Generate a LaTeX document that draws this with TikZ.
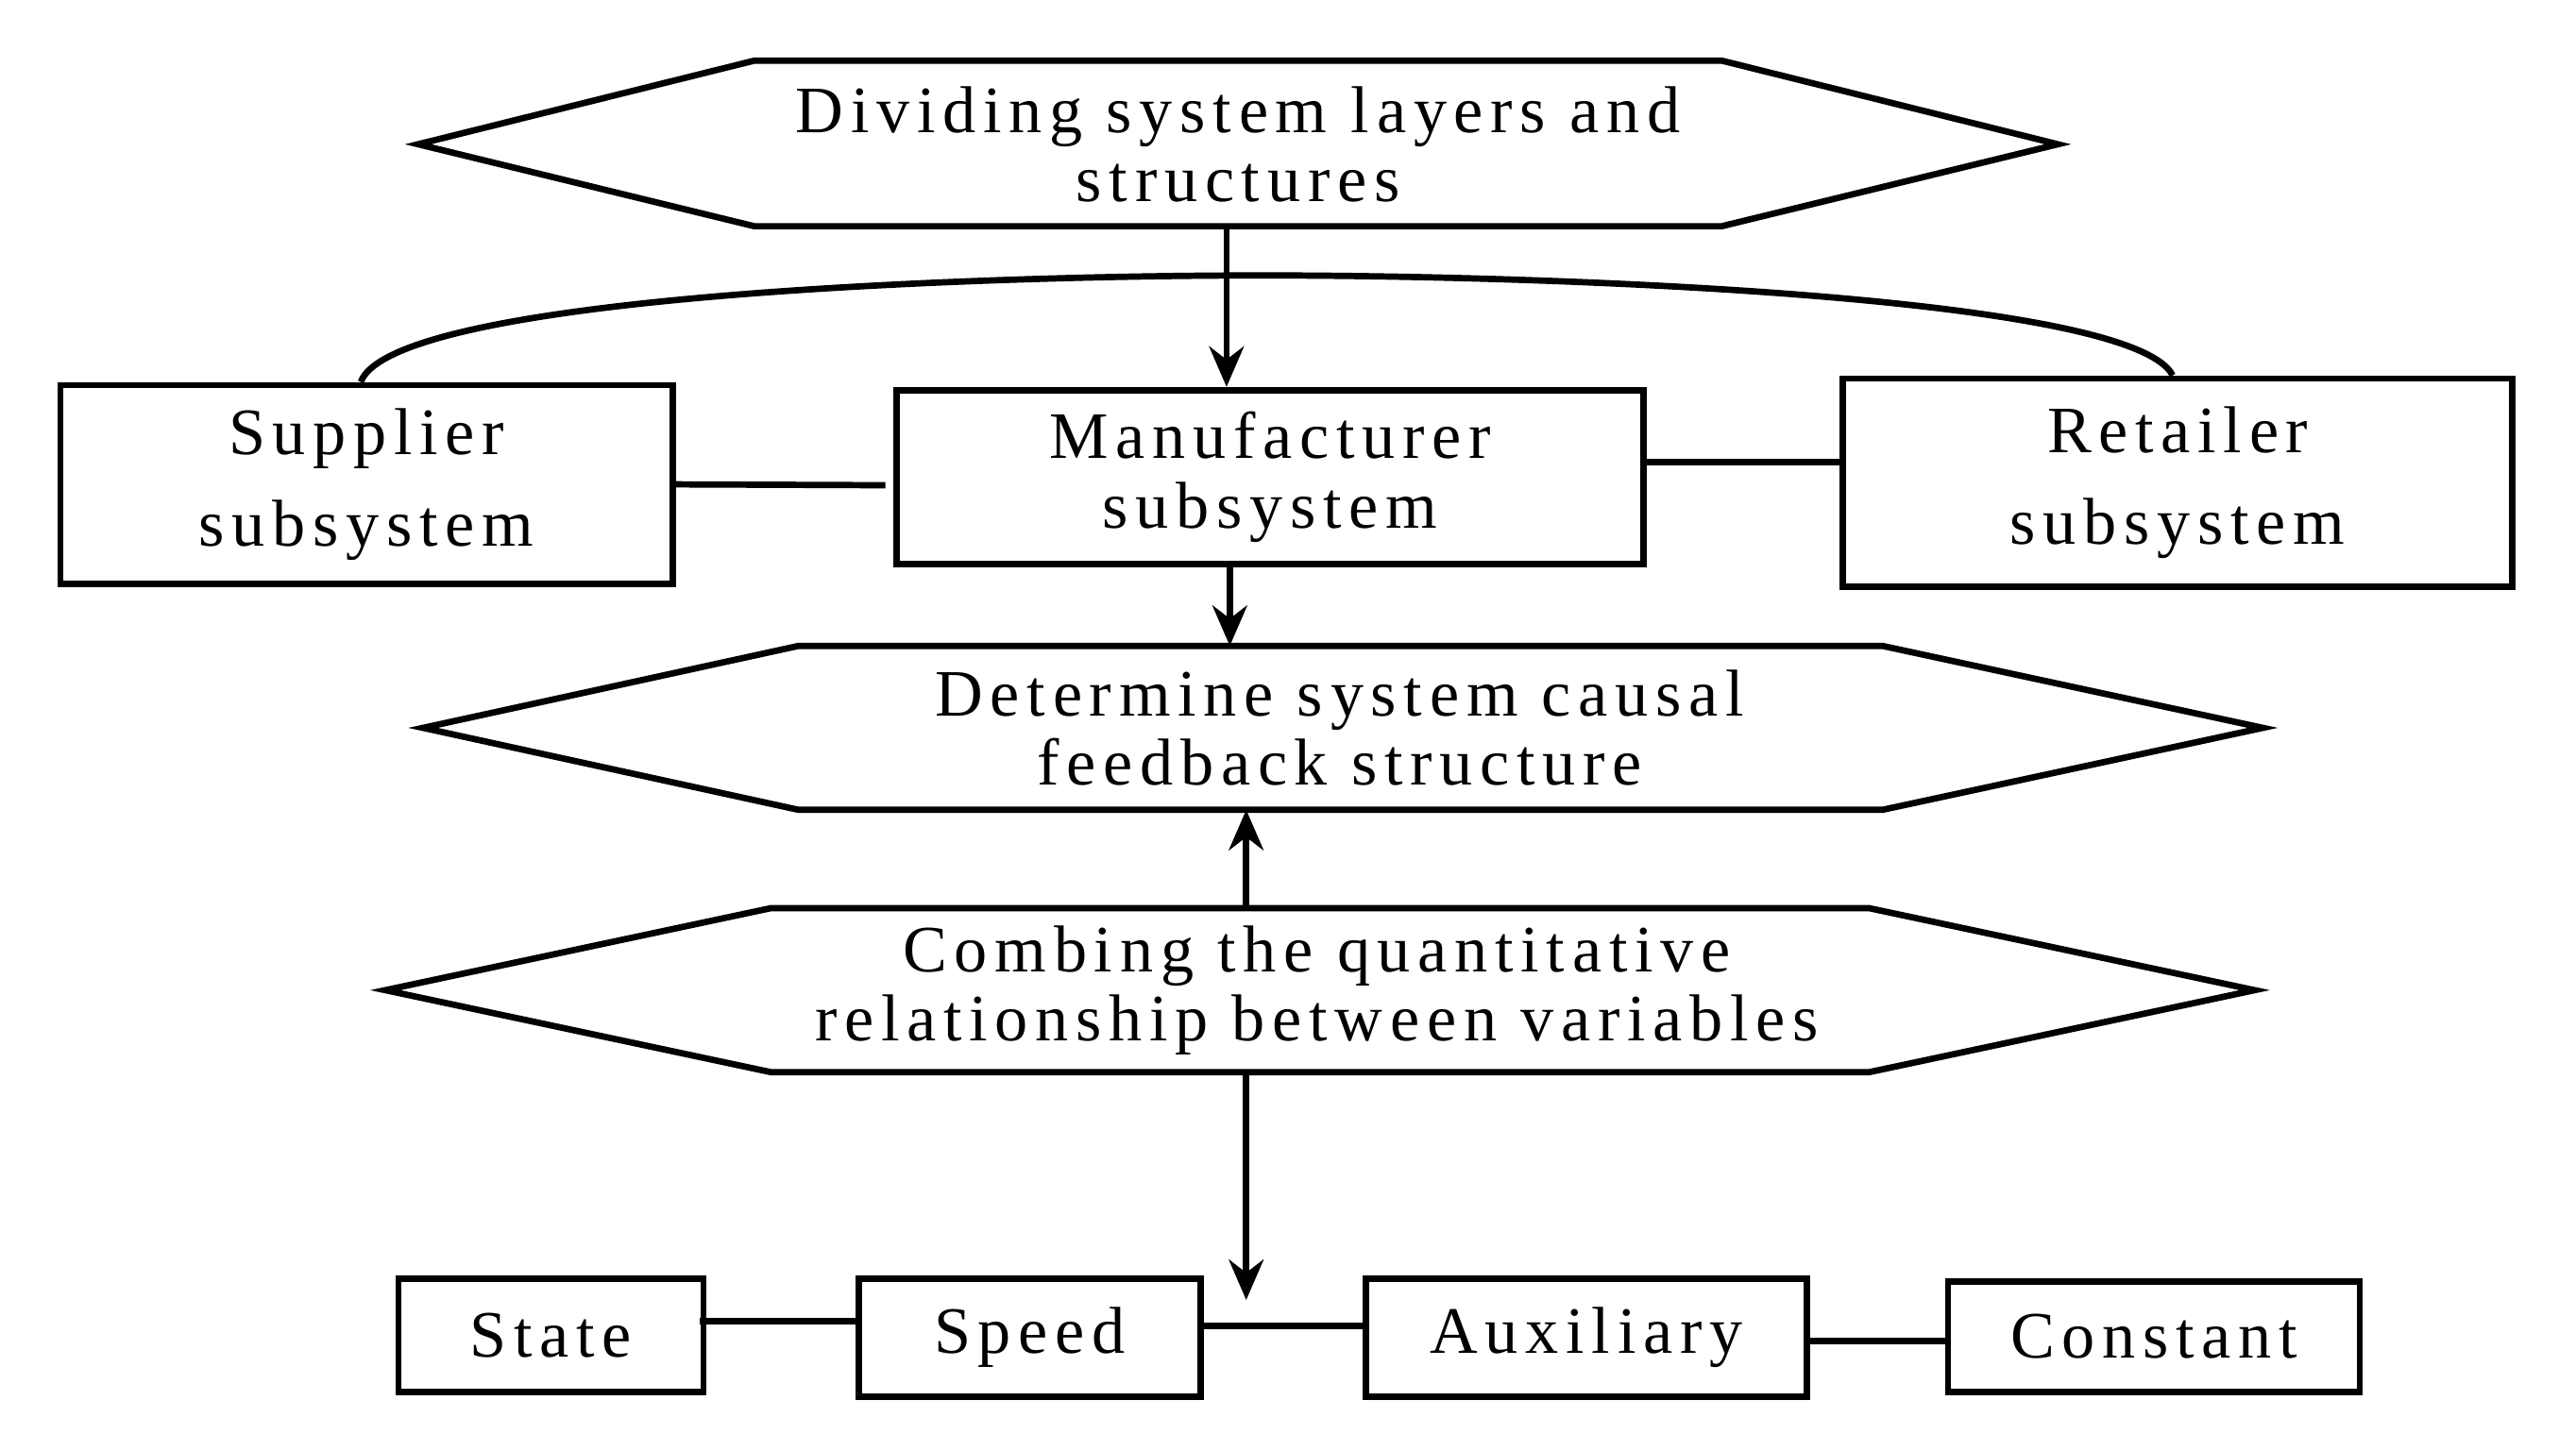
\documentclass[tikz,border=0pt]{standalone}
\usepackage{fontspec}
\setmainfont{Liberation Serif}[LetterSpace=11]
\usetikzlibrary{arrows.meta}
\begin{document}
\begin{tikzpicture}[x=0.01cm,y=-0.01cm,line width=1.1pt,
  txt/.style={align=center,font=\fontsize{11.5}{12}\selectfont,inner sep=0pt},
  box/.style={draw,txt,anchor=north west},
  arr/.style={-{Stealth[length=7pt,width=6pt]}}]
\useasboundingbox (0,0) rectangle (1571,885);
% hexagons
\draw (255,88) -- (460,37) -- (1050,37) -- (1255,88) -- (1050,138) -- (460,138) -- cycle;
\node[txt] (h1) at (755,88) {Dividing system layers and\\structures};
\coordinate (h1b) at (748,138);
\draw (258,444) -- (487,394) -- (1148,394) -- (1380,444) -- (1148,494) -- (487,494) -- cycle;
\node[txt] (h2) at (817,444) {Determine system causal\\feedback structure};
\coordinate (h2t) at (750,394); \coordinate (h2b) at (760,494);
\draw (235,604) -- (470,554) -- (1140,554) -- (1375,604) -- (1140,654) -- (470,654) -- cycle;
\node[txt] (h3) at (803,604) {Combing the quantitative\\relationship between variables};
\coordinate (h3t) at (760,554); \coordinate (h3b) at (760,654);
% subsystem boxes
\node[box,minimum width=3.73cm,minimum height=1.21cm] (sup) at (35,233) {Supplier\\[4pt]subsystem};
\node[box,minimum width=4.55cm,minimum height=1.06cm] (man) at (545,236) {Manufacturer\\subsystem};
\node[box,minimum width=4.08cm,minimum height=1.27cm] (ret) at (1122,229) {Retailer\\[4pt]subsystem};
\coordinate (mt) at (748,236); \coordinate (mb) at (750,342);
\draw[arr] (h1b) -- (mt);
\draw[arr] (mb) -- (h2t);
\draw (sup.east) -- (540,296);
\draw (1000,282) -- (1122,282);
\draw (220,233) .. controls (240,180) and (600,168) .. (770,168) .. controls (940,168) and (1300,180) .. (1325,229);
\draw[arr] (h3t) -- (h2b);
% bottom boxes
\node[box,minimum width=1.86cm,minimum height=0.69cm] (st) at (241,778) {State};
\node[box,minimum width=2.08cm,minimum height=0.72cm] (sp) at (522,778) {Speed};
\node[box,minimum width=2.69cm,minimum height=0.72cm] (au) at (831,778) {Auxiliary};
\node[box,minimum width=2.51cm,minimum height=0.67cm] (co) at (1186,780) {Constant};
\coordinate (end) at (760,793);
\draw[arr] (h3b) -- (end);
\draw (427,806) -- (522,806);
\draw (730,809) -- (831,809);
\draw (1100,818) -- (1186,818);
\end{tikzpicture}
\end{document}
